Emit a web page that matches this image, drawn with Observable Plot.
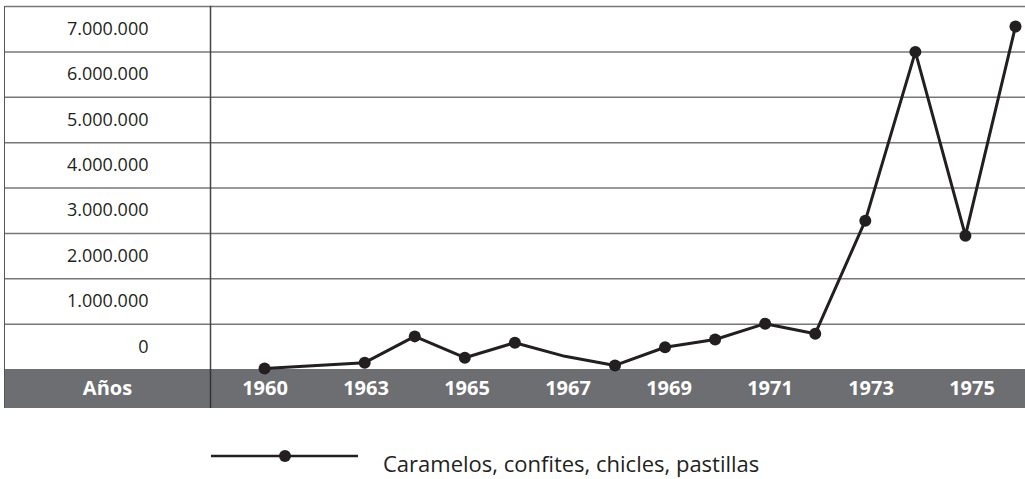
<!DOCTYPE html>
<html><head><meta charset="utf-8">
<script src="https://cdn.jsdelivr.net/npm/d3@7"></script>
<script src="https://cdn.jsdelivr.net/npm/@observablehq/plot@0.6"></script>
<style>
body{margin:0;background:#fff;font-family:"Open Sans",sans-serif;}
#wrap{position:relative;width:1025px;height:479px;overflow:hidden;}
#main{position:absolute;left:5px;top:5px;z-index:2;}
#main svg{overflow:visible;}
#band{position:absolute;left:5px;top:369px;z-index:1;}
#border{position:absolute;left:4px;top:6px;width:0;height:402px;border-left:1.5px solid #555;z-index:3;}
#legend-line{position:absolute;left:211px;top:446px;}
#legend-text{position:absolute;left:383px;top:452px;font-size:22px;line-height:22px;color:#231f20;white-space:nowrap;}
</style></head>
<body>
<div id="wrap">
  <div id="main"></div>
  <div id="band"></div>
  <div id="border"></div>
  <svg id="legend-line" width="148" height="20"><line x1="0" x2="147" y1="10" y2="10" stroke="#231f20" stroke-width="2.5"/><circle cx="74" cy="10" r="6" fill="#231f20"/></svg>
  <div id="legend-text"></div>
</div>
<script>
// ---- data ----
const years = [1960, 1962, 1963, 1964, 1965, 1966, 1967, 1968, 1969, 1970, 1971, 1972, 1973, 1974, 1975];
const values = [20000, 150000, 730000, 260000, 590000, 290000, 90000, 490000, 660000, 1010000, 790000, 3280000, 7000000, 2950000, 7560000];
const noMarkerYears = [1966];
const yTickLabels = ["0", "1.000.000", "2.000.000", "3.000.000", "4.000.000", "5.000.000", "6.000.000", "7.000.000"];
const yTickValues = [500000, 1500000, 2500000, 3500000, 4500000, 5500000, 6500000, 7500000];
const gridValues = [1000000, 2000000, 3000000, 4000000, 5000000, 6000000, 7000000, 8000000];
const bandLabels = ["1960", "1963", "1965", "1967", "1969", "1971", "1973", "1975"];
const axisTitle = "Años";
const seriesName = "Caramelos, confites, chicles, pastillas";

const ink = "#231f20";
const data = years.map((year, i) => ({year, value: values[i]}));

const main = Plot.plot({
  width: 1020, height: 364,
  marginTop: 1, marginBottom: 0, marginLeft: 205, marginRight: 0,
  x: {domain: [1958.92, 1975.2], axis: null},
  y: {domain: [0, 8000000], axis: null},
  style: {fontFamily: "'Open Sans', sans-serif", fontSize: "18px", color: ink, background: "transparent", overflow: "visible"},
  marks: [
    Plot.gridY(gridValues, {stroke: "#777", strokeOpacity: 1, strokeWidth: 1.5}),
    Plot.axisY(gridValues, {tickSize: 205, tickFormat: () => "", stroke: "#777", strokeWidth: 1.5, label: null}),
    Plot.axisY(yTickValues, {tickSize: 0, tickPadding: 62, tickFormat: d => yTickLabels[yTickValues.indexOf(d)], fontSize: 18, fill: ink, label: null}),
    Plot.frame({anchor: "left", stroke: "#444", strokeWidth: 1.5}),
    Plot.line(data, {x: "year", y: "value", stroke: ink, strokeWidth: 3}),
    Plot.dot(data.filter(d => !noMarkerYears.includes(d.year)), {x: "year", y: "value", r: 6, fill: ink})
  ]
});
document.getElementById("main").append(main);

const band = Plot.plot({
  width: 1020, height: 39,
  marginTop: 0, marginBottom: 0, marginLeft: 205, marginRight: 0,
  x: {type: "band", domain: bandLabels, padding: 0, axis: null},
  style: {fontFamily: "'Open Sans', sans-serif", background: "#6d6e71"},
  marks: [
    Plot.text(bandLabels, {x: d => d, frameAnchor: "middle", fill: "white", fontWeight: "bold", fontSize: 20}),
    Plot.text([axisTitle], {frameAnchor: "left", dx: -103, textAnchor: "middle", fill: "white", fontWeight: "bold", fontSize: 20}),
    Plot.frame({anchor: "left", stroke: "#333", strokeWidth: 1.5})
  ]
});
document.getElementById("band").append(band);

document.getElementById("legend-text").textContent = seriesName;
</script>
</body></html>
